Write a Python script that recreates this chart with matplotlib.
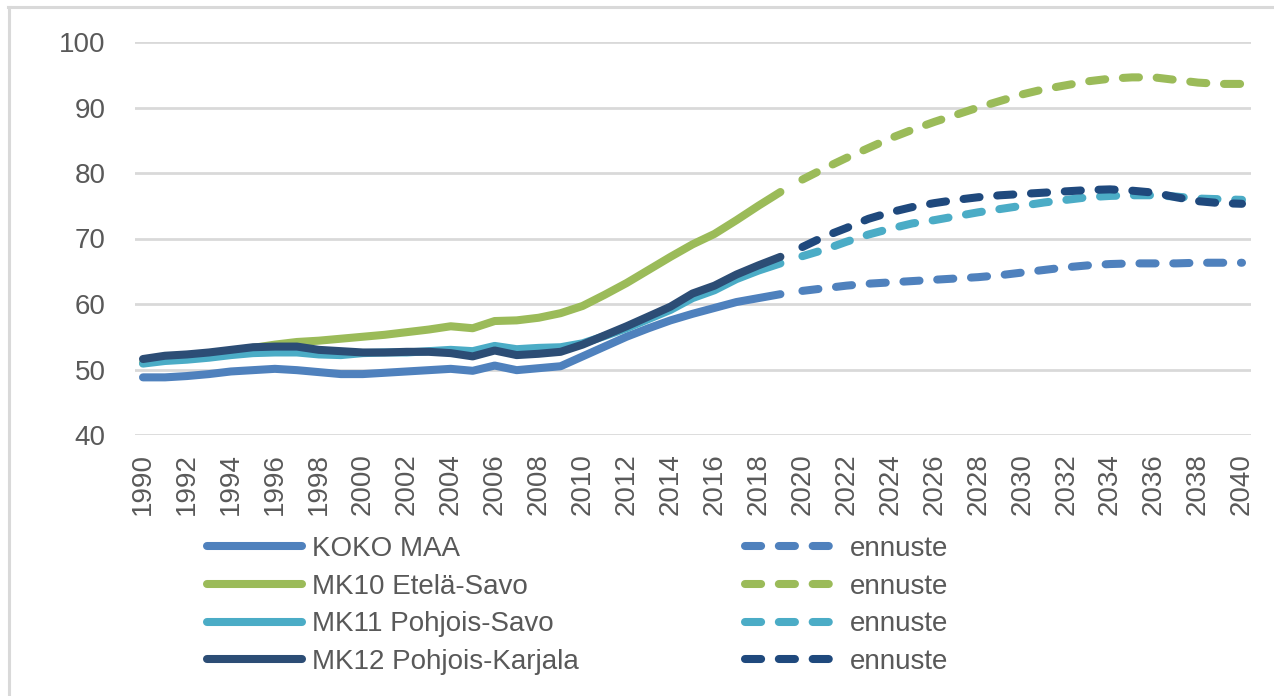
import matplotlib
matplotlib.use("Agg")
import matplotlib.pyplot as plt
from matplotlib.lines import Line2D

plt.rcParams['font.family'] = ['Liberation Sans', 'DejaVu Sans']

# ---- data ----
years_hist = list(range(1990, 2020))
years_fc = list(range(2020, 2041))

koko_maa = [48.8, 48.8, 49.0, 49.3, 49.7, 49.9, 50.1, 49.9, 49.6, 49.3,
            49.3, 49.5, 49.7, 49.9, 50.1, 49.8, 50.6, 49.9, 50.2, 50.5,
            52.0, 53.5, 55.0, 56.3, 57.5, 58.5, 59.4, 60.3, 60.9, 61.5]
etela_savo = [51.0, 51.5, 51.8, 52.3, 52.8, 53.3, 53.8, 54.2, 54.4, 54.7,
              55.0, 55.3, 55.7, 56.1, 56.6, 56.3, 57.4, 57.5, 57.9, 58.6,
              59.7, 61.4, 63.2, 65.2, 67.2, 69.1, 70.7, 72.8, 75.0, 77.1]
pohjois_savo = [50.9, 51.3, 51.5, 51.8, 52.2, 52.5, 52.6, 52.6, 52.3, 52.2,
                52.5, 52.6, 52.6, 52.8, 53.0, 52.8, 53.6, 53.1, 53.3, 53.4,
                54.0, 55.1, 56.3, 57.7, 59.1, 60.9, 62.1, 63.8, 65.1, 66.2]
pohjois_karjala = [51.6, 52.1, 52.3, 52.6, 53.0, 53.4, 53.5, 53.5, 53.0, 52.8,
                   52.6, 52.6, 52.7, 52.7, 52.5, 52.0, 52.9, 52.2, 52.4, 52.7,
                   53.8, 55.2, 56.6, 58.1, 59.6, 61.6, 62.8, 64.5, 65.9, 67.2]

koko_maa_fc = [62.0, 62.4, 62.8, 63.1, 63.3, 63.5, 63.7, 63.9, 64.1, 64.4, 64.8,
               65.2, 65.6, 65.9, 66.1, 66.2, 66.2, 66.2, 66.3, 66.3, 66.3]
etela_savo_fc = [79.0, 80.7, 82.3, 83.8, 85.3, 86.6, 87.8, 88.9, 90.0, 91.0, 92.0,
                 92.8, 93.4, 94.0, 94.4, 94.6, 94.6, 94.2, 93.8, 93.6, 93.6]
pohjois_savo_fc = [67.3, 68.3, 69.5, 70.6, 71.5, 72.3, 72.8, 73.4, 74.0, 74.5, 75.0,
                   75.5, 75.9, 76.3, 76.5, 76.6, 76.6, 76.4, 76.1, 76.0, 75.9]
pohjois_karjala_fc = [68.7, 70.3, 71.6, 73.0, 74.0, 74.8, 75.4, 75.9, 76.3, 76.6, 76.8,
                      77.0, 77.2, 77.4, 77.5, 77.3, 77.0, 76.3, 75.7, 75.4, 75.3]

labels = ["KOKO MAA", "MK10 Etelä-Savo", "MK11 Pohjois-Savo", "MK12 Pohjois-Karjala"]
fc_label = "ennuste"
hist_series = [koko_maa, etela_savo, pohjois_savo, pohjois_karjala]
fc_series = [koko_maa_fc, etela_savo_fc, pohjois_savo_fc, pohjois_karjala_fc]
colors = ["#4F81BD", "#9BBB59", "#4BACC6", "#2C4D75"]
fc_colors = ["#4F81BD", "#9BBB59", "#4BACC6", "#1F497D"]

yticks = [40, 50, 60, 70, 80, 90, 100]
xticks = list(range(1990, 2041, 2))

# ---- figure ----
W, H = 1274, 696
fig = plt.figure(figsize=(W / 100, H / 100), dpi=100)
fig.patch.set_facecolor("white")

ax_l, ax_r, ax_t, ax_b = 135, 1251, 42, 435
ax = fig.add_axes([ax_l / W, 1 - ax_b / H, (ax_r - ax_l) / W, (ax_b - ax_t) / H])

lw = 5.8
dash = (2.0, 2.2)
solid_handles = []
fc_handles = []
for ys, c, lab in zip(hist_series, colors, labels):
    ln, = ax.plot(years_hist, ys, color=c, lw=lw, solid_capstyle="round",
                  solid_joinstyle="round", clip_on=False, label=lab)
    solid_handles.append(ln)
for ys, c in zip(fc_series, fc_colors):
    ln, = ax.plot(years_fc, ys, color=c, lw=lw, dashes=dash, dash_capstyle="round",
                  dash_joinstyle="round", clip_on=False, label=fc_label)
    fc_handles.append(ln)

x0 = 1990 - (143 - ax_l) / 21.98
x1 = 2040 + (ax_r - 1242) / 21.98
ax.set_xlim(x0, x1)
ax.set_ylim(40, 100)
ax.set_yticks(yticks)
ax.set_xticks(xticks)
ax.set_xticklabels([str(x) for x in xticks], rotation=90)
ax.tick_params(axis="both", length=0, labelsize=20, colors="#595959")
ax.tick_params(axis="x", pad=13)
ax.tick_params(axis="y", pad=21)
ax.grid(axis="y", color="#D9D9D9", lw=2)
ax.set_axisbelow(True)
for s in ax.spines.values():
    s.set_visible(False)

# ---- legends ----
leg_kw = dict(loc="upper left", frameon=False, fontsize=20, borderpad=0,
              borderaxespad=0, handlelength=3.42, handletextpad=0.36,
              labelspacing=0.42, labelcolor="#595959")
leg1 = fig.legend(solid_handles, labels, bbox_to_anchor=(207 / W, 1 - 536 / H), **leg_kw)
leg2 = fig.legend(fc_handles, [fc_label] * 4, bbox_to_anchor=(745 / W, 1 - 536 / H), **leg_kw)

# ---- outer frame ----
fig.add_artist(Line2D([8.5 / W, 8.5 / W], [0, 1 - 7 / H], color="#D9D9D9", lw=2.2,
                      transform=fig.transFigure))
fig.add_artist(Line2D([7.5 / W, 1], [1 - 7 / H, 1 - 7 / H], color="#D9D9D9", lw=2.2,
                      transform=fig.transFigure))

fig.savefig("out.png", dpi=100, facecolor="white")
